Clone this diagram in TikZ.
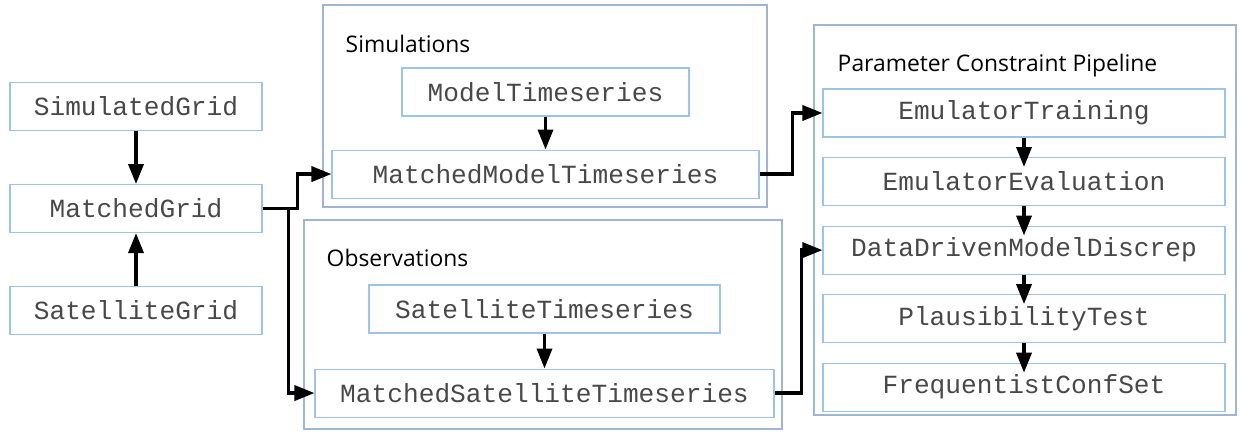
\documentclass[tikz,border=0pt]{standalone}
\usepackage{fontspec}
\setmainfont{Open Sans}
\setmonofont{Liberation Mono}
\usepackage{tikz}
\usetikzlibrary{arrows.meta}
\usetikzlibrary{calc}
\usetikzlibrary{positioning}
\definecolor{boxblue}{RGB}{157,195,230}
\definecolor{groupblue}{RGB}{160,180,212}
\definecolor{textgray}{RGB}{72,72,72}
\tikzstyle{block} = [rectangle, draw=boxblue, line width=0.6pt, inner sep=0pt,
 minimum height=0.96cm, text=textgray, font=\fontsize{14.9}{18}\selectfont\ttfamily]
\tikzstyle{group} = [rectangle, draw=groupblue, line width=0.7pt]
\tikzstyle{title} = [anchor=base west, inner sep=0pt, text=black,
 font=\fontsize{13}{16}\selectfont]
\tikzstyle{flow} = [line width=2pt, -{Triangle[length=0.4cm, width=0.3cm]}]

\begin{document}
\begin{tikzpicture}[node distance = 1.06cm]
\useasboundingbox (0,0) rectangle (24.8,-8.64);

% grids
\node[block, minimum width=5.04cm] (simgrid) at (2.72,-2.13) {SimulatedGrid};
\node[block, minimum width=5.04cm, below = of simgrid] (matchgrid) {MatchedGrid};
\node[block, minimum width=5.04cm, below = of matchgrid] (satgrid) {SatelliteGrid};

% simulations
\node[group, minimum width=8.88cm, minimum height=4.04cm] (sim) at (10.9,-2.12) {};
\node[title] (simtitle) at ($(sim.north west)+(0.46,-0.96)$) {Simulations};
\node[block, minimum width=5.74cm] (model) at (10.91,-1.84) {ModelTimeseries};
\node[block, minimum width=8.54cm, below = 0.66cm of model] (mmodel) {MatchedModelTimeseries};

% observations
\node[group, minimum width=9.56cm, minimum height=4.18cm] (obs) at (10.86,-6.49) {};
\node[title] (obstitle) at ($(obs.north west)+(0.46,-0.94)$) {Observations};
\node[block, minimum width=7.02cm] (satts) at (10.89,-6.18) {SatelliteTimeseries};
\node[block, minimum width=9.18cm, below = 0.7cm of satts] (msat) {MatchedSatelliteTimeseries};

% pipeline
\node[group, minimum width=8.44cm, minimum height=7.8cm] (pipe) at (20.5,-4.4) {};
\node[title] (pipetitle) at ($(pipe.north west)+(0.48,-0.94)$) {Parameter Constraint Pipeline};
\node[block, minimum width=8.04cm] (train) at (20.48,-2.26) {EmulatorTraining};
\node[block, minimum width=8.04cm, below = 0.39cm of train] (eval) {EmulatorEvaluation};
\node[block, minimum width=8.04cm, below = 0.39cm of eval] (discrep) {DataDrivenModelDiscrep};
\node[block, minimum width=8.04cm, below = 0.39cm of discrep] (plaus) {PlausibilityTest};
\node[block, minimum width=8.04cm, below = 0.39cm of plaus] (confset) {FrequentistConfSet};

\draw[flow] (simgrid) -- (matchgrid);
\draw[flow] (satgrid) -- (matchgrid);
\draw[flow] (matchgrid.east) -- ++(0.7,0) |- (mmodel.west);
\draw[flow] (matchgrid.east) -- ++(0.52,0) |- (msat.west);
\draw[flow] (model) -- (mmodel);
\draw[flow] (satts) -- (msat);
\draw[flow] (mmodel.east) -- ++(0.66,0) |- (train.west);
\draw[flow] (msat.east) -- ++(0.54,0) |- (discrep.west);
\foreach \a/\b in {train/eval, eval/discrep, discrep/plaus, plaus/confset}
  \draw[flow, shorten >=-0.2cm] (\a) -- (\b);

\end{tikzpicture}
\end{document}
